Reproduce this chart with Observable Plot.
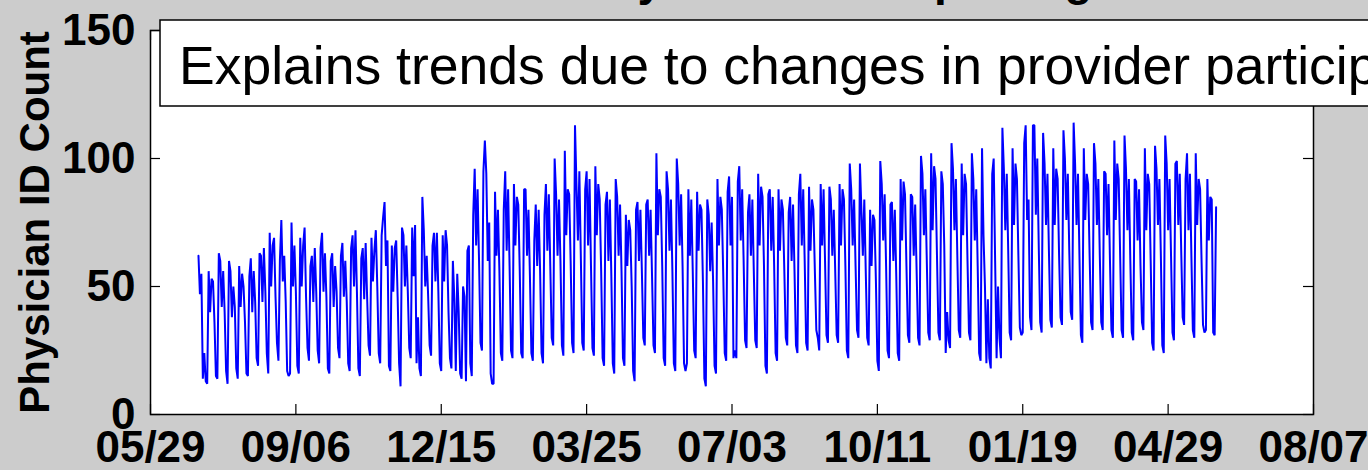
<!DOCTYPE html>
<html>
<head>
<meta charset="utf-8">
<script src="https://cdn.jsdelivr.net/npm/d3@7"></script>
<script src="https://cdn.jsdelivr.net/npm/@observablehq/plot@0.6"></script>
<style>
  html, body { margin: 0; padding: 0; background: #cccccc; overflow: hidden; }
  #chart svg { display: block; }
</style>
</head>
<body>
<div id="chart"></div>
<script>
// Daily count of distinct physician IDs, one value per day starting on firstDay.
// Each row is one week, Monday through Sunday.
const firstDay = "2013-07-01";

// Jul 1 – Dec 29, 2013
const countsA = [
  62, 47, 55, 14, 24, 13, 12,
  56, 40, 53, 52, 36, 15, 14,
  63, 60, 42, 56, 40, 17, 12,
  60, 56, 38, 50, 42, 18, 14,
  58, 42, 55, 50, 36, 16, 15,
  54, 61, 40, 56, 44, 22, 19,
  63, 62, 44, 65, 48, 24, 16,
  71, 50, 66, 69, 46, 28, 21,
  60, 76, 52, 62, 44, 17, 15,
  16, 75, 50, 66, 48, 19, 16,
  69, 50, 66, 73, 46, 26, 21,
  58, 62, 44, 65, 48, 25, 20,
  65, 71, 48, 63, 46, 18, 16,
  60, 63, 42, 58, 48, 26, 22,
  62, 67, 46, 60, 44, 20, 17,
  65, 70, 50, 72, 48, 18, 15,
  61, 65, 45, 67, 46, 27, 23,
  69, 52, 64, 72, 50, 24, 20,
  70, 77, 83, 58, 68, 19, 17,
  66, 48, 65, 68, 46, 20, 11,
  73, 70, 50, 66, 48, 26, 22,
  73, 54, 74, 20, 38, 18, 15,
  85, 72, 50, 62, 46, 27, 23,
  66, 71, 52, 71, 48, 20, 17,
  70, 52, 72, 66, 40, 22, 18,
  60, 45, 17, 55, 40, 16, 14
];

// Dec 30, 2013 – Jun 29, 2014
const countsB = [
  50, 46, 13, 64, 66, 20, 15,
  78, 96, 66, 88, 60, 28, 25,
  95, 107, 94, 60, 75, 16, 12,
  12, 87, 62, 80, 56, 24, 21,
  80, 95, 64, 88, 58, 25, 22,
  90, 66, 85, 82, 56, 24, 22,
  88, 88, 62, 80, 54, 24, 21,
  68, 82, 58, 80, 56, 24, 20,
  78, 90, 64, 86, 58, 30, 27,
  100, 86, 62, 84, 60, 27, 23,
  103, 70, 88, 86, 60, 28, 24,
  113, 90, 68, 95, 62, 28, 25,
  88, 95, 66, 92, 58, 26, 23,
  97, 70, 90, 84, 56, 22, 19,
  82, 87, 60, 84, 54, 20, 16,
  92, 85, 62, 82, 56, 22, 19,
  78, 58, 76, 72, 50, 17, 13,
  80, 83, 60, 80, 56, 30, 27,
  82, 84, 62, 80, 54, 27, 24,
  102, 70, 88, 85, 58, 22, 19,
  95, 88, 64, 84, 56, 20, 17,
  100, 90, 66, 86, 58, 20, 17,
  20, 88, 62, 84, 56, 25, 22,
  87, 64, 82, 80, 52, 14, 11,
  84, 78, 56, 75, 52, 19, 16,
  92, 66, 85, 80, 54, 24, 21
];

// Jun 30 – Dec 28, 2014
const countsC = [
  87, 93, 66, 85, 22, 25, 22,
  91, 97, 68, 88, 60, 29, 26,
  79, 86, 62, 84, 56, 29, 26,
  94, 66, 89, 85, 58, 19, 16,
  86, 88, 64, 85, 58, 24, 21,
  88, 64, 84, 80, 56, 30, 27,
  79, 85, 60, 82, 56, 27, 24,
  86, 94, 66, 88, 60, 28, 25,
  89, 64, 84, 80, 56, 33, 30,
  25, 90, 66, 88, 60, 31, 28,
  89, 84, 62, 80, 56, 31, 28,
  90, 66, 88, 84, 58, 25, 22,
  98, 88, 66, 84, 58, 33, 30,
  98, 80, 62, 84, 56, 30, 27,
  80, 58, 78, 76, 52, 21, 17,
  99, 90, 68, 86, 58, 25, 22,
  82, 83, 60, 80, 54, 24, 21,
  92, 68, 91, 86, 58, 31, 28,
  86, 85, 62, 82, 56, 30, 27,
  101, 94, 70, 88, 60, 32, 29,
  102, 72, 97, 92, 62, 32, 29,
  95, 90, 66, 24, 40, 29, 26,
  106, 96, 72, 92, 62, 33, 30,
  98, 70, 94, 90, 60, 32, 29,
  102, 92, 68, 88, 58, 24, 21,
  104, 70, 50, 20, 45, 22, 18
];

// Dec 29, 2014 – Jun 1, 2015
const countsD = [
  94, 100, 60, 22, 50, 30, 22,
  112, 96, 72, 94, 64, 32, 29,
  104, 74, 98, 92, 62, 34, 31,
  32, 106, 113, 76, 84, 38, 33,
  113, 113, 78, 100, 66, 36, 32,
  110, 98, 74, 94, 64, 37, 34,
  104, 74, 96, 92, 62, 38, 35,
  111, 100, 76, 94, 64, 40, 37,
  114, 98, 74, 94, 62, 31, 28,
  104, 76, 94, 90, 62, 36, 33,
  106, 98, 74, 92, 62, 36, 33,
  95, 94, 70, 90, 60, 33, 30,
  107, 76, 98, 92, 62, 33, 30,
  109, 96, 72, 92, 60, 32, 29,
  92, 91, 68, 88, 58, 36, 33,
  104, 72, 94, 90, 60, 28, 25,
  105, 96, 74, 92, 62, 27, 24,
  109, 98, 72, 92, 62, 32, 29,
  98, 99, 74, 94, 64, 38, 35,
  92, 102, 72, 94, 62, 33, 30,
  102, 74, 92, 88, 60, 35, 32,
  33, 92, 68, 85, 84, 32, 31,
  81
];

// Axis ticks and labels
const xDomain = ["2013-05-29", "2015-08-07"];
const xTickDates = ["2013-05-29", "2013-09-06", "2013-12-15", "2014-03-25", "2014-07-03",
                    "2014-10-11", "2015-01-19", "2015-04-29", "2015-08-07"];
const yTicks = [0, 50, 100, 150];
const titleText = "Distinct Daily Provider Reporting";
const yLabel = "Physician ID Count";
const noteText = "Explains trends due to changes in provider participation";

const parseDay = d3.utcParse("%Y-%m-%d");
const start = parseDay(firstDay);
const counts = [...countsA, ...countsB, ...countsC, ...countsD];
const series = counts.map((count, i) => ({date: d3.utcDay.offset(start, i), count}));
const xTicks = xTickDates.map(parseDay);

const W = 1368, H = 470;
const margin = {top: 30, right: 55, bottom: 56, left: 150};
const frameW = W - margin.left - margin.right;
const frameH = H - margin.top - margin.bottom;
const tickLen = 10;
const font = "'Liberation Sans', Arial, Helvetica, sans-serif";

const chart = Plot.plot({
  width: W,
  height: H,
  marginTop: margin.top,
  marginRight: margin.right,
  marginBottom: margin.bottom,
  marginLeft: margin.left,
  style: {background: "#cccccc", fontFamily: font, color: "black"},
  x: {type: "utc", domain: xDomain.map(parseDay)},
  y: {domain: [0, 150]},
  marks: [
    Plot.frame({fill: "white", stroke: null}),
    Plot.line(series, {x: "date", y: "count", stroke: "#0000ff", strokeWidth: 2, strokeLinejoin: "miter"}),
    // inward ticks on all four sides of the axes box
    Plot.tickX(xTicks, {x: d => d, insetTop: frameH - tickLen, stroke: "black", strokeWidth: 1.2}),
    Plot.tickX(xTicks, {x: d => d, insetBottom: frameH - tickLen, stroke: "black", strokeWidth: 1.2}),
    Plot.tickY(yTicks, {y: d => d, insetRight: frameW - tickLen, stroke: "black", strokeWidth: 1.2}),
    Plot.tickY(yTicks, {y: d => d, insetLeft: frameW - tickLen, stroke: "black", strokeWidth: 1.2}),
    Plot.frame({stroke: "black", strokeWidth: 1.5}),
    Plot.axisX({ticks: xTicks, tickFormat: d3.utcFormat("%m/%d"), tickSize: 0, tickPadding: 16,
                fontSize: 44, fontWeight: "bold", label: null}),
    Plot.axisY({ticks: yTicks, tickSize: 0, tickPadding: 15, fontSize: 44, fontWeight: "bold", label: null}),
    Plot.text([yLabel], {text: d => d, frameAnchor: "left", textAnchor: "middle", rotate: -90, dx: -115,
                         fontSize: 42, fontWeight: "bold"}),
    Plot.text([titleText], {text: d => d, frameAnchor: "top", lineAnchor: "bottom", dy: -36,
                            fontSize: 46, fontWeight: "bold"})
  ]
});

// annotation box laid over the top of the axes
const svg = d3.select(chart);
const note = svg.append("g").attr("class", "note");
note.append("rect")
  .attr("x", margin.left + 10).attr("y", 20)
  .attr("width", W).attr("height", 86)
  .attr("fill", "white").attr("stroke", "black").attr("stroke-width", 1.5);
note.append("text")
  .attr("x", margin.left + 29).attr("y", 84)
  .attr("text-anchor", "start")
  .attr("font-family", font).attr("font-size", 53.5).attr("fill", "black")
  .text(noteText);

document.getElementById("chart").append(chart);
</script>
</body>
</html>
